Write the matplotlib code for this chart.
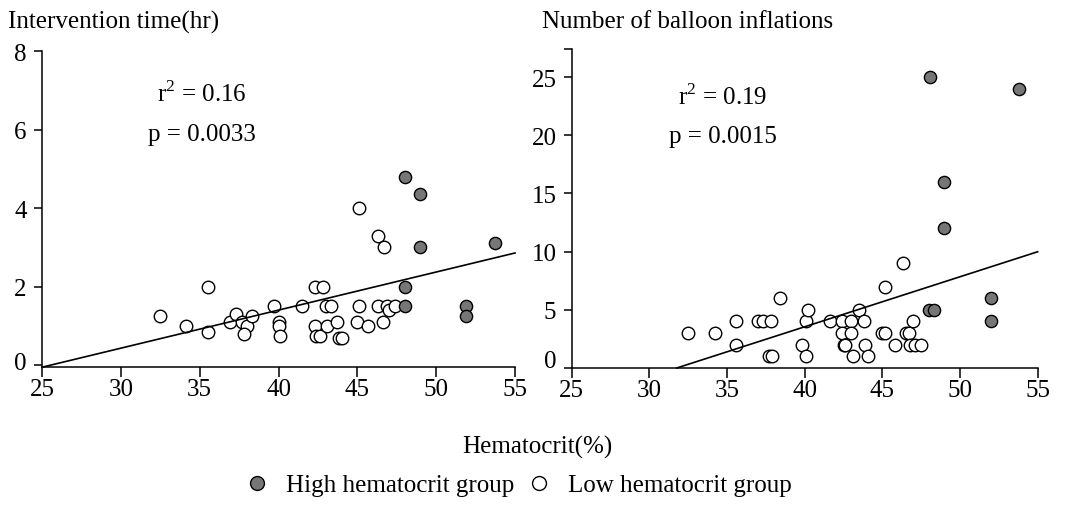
import numpy as np
import matplotlib
matplotlib.use("Agg")
import matplotlib.pyplot as plt
import matplotlib.transforms as mtransforms
from matplotlib.lines import Line2D

plt.rcParams['font.family'] = ['Liberation Serif', 'DejaVu Serif']
plt.rcParams['mathtext.fontset'] = 'custom'
plt.rcParams['mathtext.rm'] = 'Liberation Serif'
FS = 18

# Intervention time (hr) vs hematocrit
time_low_x = [32.5, 34.15, 35.5, 35.5, 36.9, 37.3, 37.7, 38.0, 37.8, 38.3,
              39.7, 40.0, 40.0, 40.1, 41.5, 42.3, 42.8, 42.3, 42.4, 42.6,
              43.0, 43.3, 43.1, 43.7, 43.85, 44.05, 45.1, 45.0, 45.7, 46.3,
              46.6, 46.9, 47.0, 47.4, 45.1, 46.3, 46.7]
time_low_y = [1.25, 1.0, 2.0, 0.85, 1.1, 1.3, 1.1, 1.0, 0.8, 1.25,
              1.5, 1.1, 1.0, 0.75, 1.5, 2.0, 2.0, 1.0, 0.75, 0.75,
              1.5, 1.5, 1.0, 1.1, 0.7, 0.7, 1.5, 1.1, 1.0, 1.5,
              1.1, 1.5, 1.4, 1.5, 4.0, 3.3, 3.0]
time_high_x = [48.0, 49.0, 49.0, 53.7, 48.0, 48.0, 51.9, 51.9]
time_high_y = [4.8, 4.35, 3.0, 3.1, 2.0, 1.5, 1.5, 1.25]
time_fit = (0.097, -2.48)  # slope, intercept

# Number of balloon inflations vs hematocrit
infl_low_x = [32.5, 34.2, 35.6, 35.6, 37.0, 37.3, 37.8, 37.7, 37.9, 38.4,
              39.8, 40.1, 40.1, 40.2, 41.6, 42.4, 42.4, 42.5, 42.6, 43.0,
              43.0, 43.1, 43.5, 43.8, 43.9, 44.1, 45.0, 45.2, 45.2, 45.8,
              46.3, 46.55, 46.7, 47.0, 46.8, 47.1, 47.5]
infl_low_y = [3, 3, 4, 2, 4, 4, 4, 1, 1, 6,
              2, 1, 4, 5, 4, 4, 3, 2, 2, 4,
              3, 1, 5, 4, 2, 1, 3, 3, 7, 2,
              9, 3, 3, 4, 2, 2, 2]
infl_high_x = [48.0, 48.3, 52.0, 52.0, 48.1, 53.8, 49.0, 49.0]
infl_high_y = [5, 5, 6, 4, 25, 24, 16, 12]
infl_fit = (0.430, -13.66)

x_ticks = [25, 30, 35, 40, 45, 50, 55]

fig = plt.figure(figsize=(10.67, 5.06), dpi=100)
ax1 = fig.add_axes([0.0394, 0.2727, 0.4433, 0.6245])
ax2 = fig.add_axes([0.5358, 0.2708, 0.4367, 0.6300])

high_style = dict(marker='o', linestyle='none', markersize=8.8,
                  markerfacecolor='#767676', markeredgecolor='black', markeredgewidth=1.0)
low_style = dict(marker='o', linestyle='none', markersize=9.0,
                 markerfacecolor='white', markeredgecolor='black', markeredgewidth=1.0)


def style_axis(ax, ylim, yticks, top_tick, zero_shift):
    ax.set_xlim(25, 55)
    ax.set_ylim(*ylim)
    ax.set_xticks(x_ticks)
    ax.set_yticks(yticks)
    if top_tick is not None:
        ax.set_yticks([top_tick], minor=True)
        ax.tick_params(axis='y', which='minor', length=6, width=1.1, direction='out')
    ax.spines['top'].set_visible(False)
    ax.spines['right'].set_visible(False)
    for s in ('left', 'bottom'):
        ax.spines[s].set_linewidth(1.1)
    ax.tick_params(axis='x', length=7, width=1.1, direction='out', pad=1, labelsize=FS)
    ax.tick_params(axis='y', length=6, width=1.1, direction='out', pad=5, labelsize=FS)
    lbl = ax.get_yticklabels()[0]
    lbl.set_transform(lbl.get_transform() +
                      mtransforms.ScaledTranslation(0, zero_shift / 72, fig.dpi_scale_trans))


# left panel
ax1.plot(time_low_x, time_low_y, **low_style)
ax1.plot(time_high_x, time_high_y, **high_style)
xs = np.array([25, 55])
ax1.plot(xs, time_fit[0] * xs + time_fit[1], color='black', lw=1.2)
style_axis(ax1, (-0.05, 8), [0, 2, 4, 6, 8], None, 3)
ax1.text(0.338, 0.867, r'r$^{2}$ = 0.16', transform=ax1.transAxes, ha='center', va='center', fontsize=FS)
ax1.text(0.338, 0.737, 'p = 0.0033', transform=ax1.transAxes, ha='center', va='center', fontsize=FS)
fig.text(8 / 1067, 1 - 22 / 506, 'Intervention time(hr)', ha='left', va='center', fontsize=FS)

# right panel
ax2.plot(infl_low_x, infl_low_y, **low_style)
ax2.plot(infl_high_x, infl_high_y, **high_style)
x0 = -infl_fit[1] / infl_fit[0]
xs2 = np.array([x0, 55])
ax2.plot(xs2, infl_fit[0] * xs2 + infl_fit[1], color='black', lw=1.2)
style_axis(ax2, (0, 27.4), [0, 5, 10, 15, 20, 25], 27.4, 7)
ax2.text(0.324, 0.853, r'r$^{2}$ = 0.19', transform=ax2.transAxes, ha='center', va='center', fontsize=FS)
ax2.text(0.324, 0.727, 'p = 0.0015', transform=ax2.transAxes, ha='center', va='center', fontsize=FS)
fig.text(542 / 1067, 1 - 22 / 506, 'Number of balloon inflations', ha='left', va='center', fontsize=FS)

for ax in (ax1, ax2):
    for l in ax.lines:
        l.set_clip_on(False)

fig.text(537 / 1067, 1 - 447 / 506, 'Hematocrit(%)', ha='center', va='center', fontsize=FS)

handles = [Line2D([], [], marker='o', linestyle='none', markersize=10,
                  markerfacecolor='#767676', markeredgecolor='black', markeredgewidth=1.0),
           Line2D([], [], marker='o', linestyle='none', markersize=10,
                  markerfacecolor='white', markeredgecolor='black', markeredgewidth=1.0)]
fig.legend(handles, ['High hematocrit group', 'Low hematocrit group'],
           loc='center', bbox_to_anchor=(518 / 1067, 1 - 486 / 506), ncol=2,
           frameon=False, fontsize=FS, handletextpad=0.65, columnspacing=0.5,
           handlelength=1.0, borderpad=0)

fig.savefig('out.png', dpi=100)
